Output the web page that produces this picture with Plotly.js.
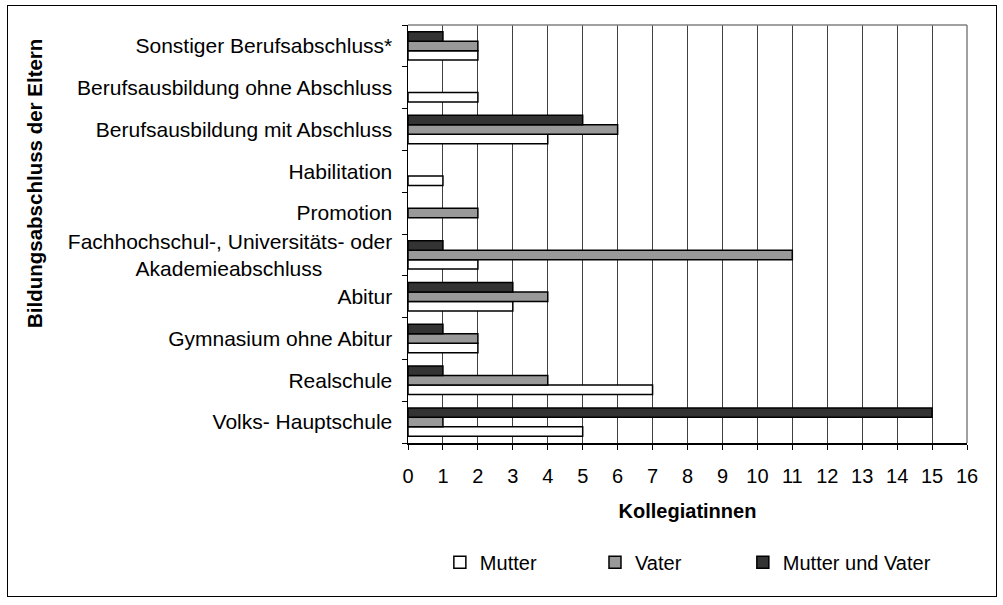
<!DOCTYPE html>
<html>
<head>
<meta charset="utf-8">
<script src="https://cdn.plot.ly/plotly-3.0.1.min.js"></script>
<style>
  html, body { margin: 0; padding: 0; background: #fff; }
  #frame { position: absolute; left: 7px; top: 5px; width: 988px; height: 590px; border: 1.5px solid #000; }
  #chart { position: absolute; left: 0; top: 0; width: 1003px; height: 605px; }
</style>
</head>
<body>
<div id="frame"></div>
<div id="chart"></div>
<script>
// Categories from bottom to top
const categories = [
  "Volks- Hauptschule",
  "Realschule",
  "Gymnasium ohne Abitur",
  "Abitur",
  "Fachhochschul-, Universitäts- oder<br>Akademieabschluss\u00a0\u00a0\u00a0\u00a0\u00a0\u00a0\u00a0\u00a0\u00a0\u00a0\u00a0\u00a0",
  "Promotion",
  "Habilitation",
  "Berufsausbildung mit Abschluss",
  "Berufsausbildung ohne Abschluss",
  "Sonstiger Berufsabschluss*"
];
const mutter         = [5, 7, 2, 3, 2, 0, 1, 4, 2, 2];
const vater          = [1, 4, 2, 4, 11, 2, 0, 6, 0, 2];
const mutterUndVater = [15, 1, 1, 3, 1, 0, 0, 5, 0, 1];
const xTicks = [0,1,2,3,4,5,6,7,8,9,10,11,12,13,14,15,16];

const FONT = "Liberation Sans, Arial, sans-serif";
const line = {color: "#000", width: 1.5};
const nz = arr => arr.map(v => (v === 0 ? null : v));

const traces = [
  {type: "bar", orientation: "h", name: "Mutter", y: categories, x: nz(mutter),
   marker: {color: "#ffffff", line: line}, legend: "legend"},
  {type: "bar", orientation: "h", name: "Vater", y: categories, x: nz(vater),
   marker: {color: "#999999", line: line}, legend: "legend2"},
  {type: "bar", orientation: "h", name: "Mutter und Vater", y: categories, x: nz(mutterUndVater),
   marker: {color: "#333333", line: line}, legend: "legend3"}
];

const legendBase = {
  orientation: "h", y: -0.285, yanchor: "middle", xanchor: "left",
  font: {family: FONT, size: 20, color: "#000"},
  itemwidth: 30, bgcolor: "rgba(0,0,0,0)"
};

const layout = {
  width: 1003, height: 605,
  margin: {l: 408, r: 36, t: 25, b: 162, pad: 0},
  paper_bgcolor: "rgba(0,0,0,0)",
  plot_bgcolor: "#ffffff",
  font: {family: FONT, color: "#000", size: 20},
  barmode: "group",
  bargap: 0.32,
  bargroupgap: 0,
  showlegend: true,
  legend: Object.assign({}, legendBase, {x: 0.057}),
  legend2: Object.assign({}, legendBase, {x: 0.3345}),
  legend3: Object.assign({}, legendBase, {x: 0.599}),
  xaxis: {
    range: [0, 16], tickvals: xTicks, ticktext: xTicks.map(String),
    showgrid: true, gridcolor: "#404040", gridwidth: 1,
    showline: true, linecolor: "#000", linewidth: 1.5,
    ticks: "outside", ticklen: 5, tickcolor: "#000", tickwidth: 1,
    tickfont: {family: FONT, size: 20, color: "#000"},
    ticklabelstandoff: 9,
    zeroline: false, fixedrange: true,
    title: {text: "<b>Kollegiatinnen</b>", font: {family: FONT, size: 20, color: "#000"}, standoff: 18}
  },
  yaxis: {
    type: "category", categoryorder: "array", categoryarray: categories,
    showgrid: false, showline: true, linecolor: "#000", linewidth: 1.5,
    ticks: "outside", ticklen: 5, tickcolor: "#000", tickwidth: 1, tickson: "boundaries",
    tickfont: {family: FONT, size: 21, color: "#000"},
    ticklabelstandoff: 10,
    zeroline: false, fixedrange: true
  },
  shapes: [
    {type: "line", xref: "paper", yref: "paper", x0: 0, x1: 1, y0: 1, y1: 1,
     line: {color: "#808080", width: 1.5}, layer: "above"},
    {type: "line", xref: "paper", yref: "paper", x0: 1, x1: 1, y0: 0, y1: 1,
     line: {color: "#808080", width: 1.5}, layer: "above"}
  ],
  annotations: [
    {text: "<b>Bildungsabschluss der Eltern</b>", xref: "paper", yref: "paper",
     x: -0.667, y: 0.62, xanchor: "center", yanchor: "middle", textangle: -90,
     showarrow: false, font: {family: FONT, size: 20.5, color: "#000"}}
  ]
};

Plotly.newPlot("chart", traces, layout, {displayModeBar: false, staticPlot: true});
</script>
</body>
</html>
